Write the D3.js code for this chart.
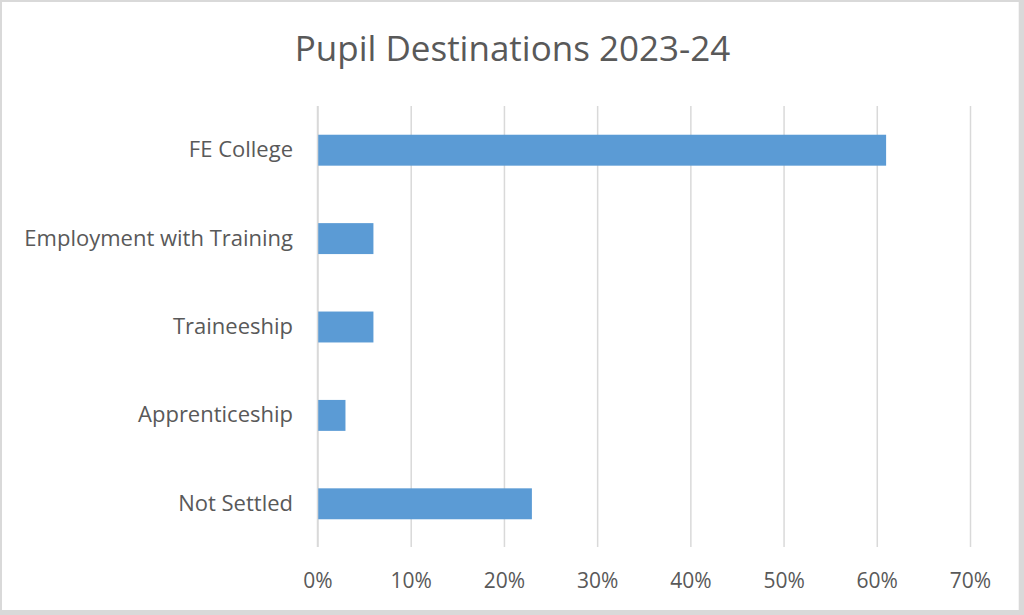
<!DOCTYPE html>
<html>
<head>
<meta charset="utf-8">
<script src="https://cdn.jsdelivr.net/npm/d3@7"></script>
<style>
  html, body { margin: 0; padding: 0; background: #fff; }
  svg { display: block; }
  text { font-family: "Open Sans", "Liberation Sans", sans-serif; fill: #595959; }
</style>
</head>
<body>
<svg id="chart" width="1024" height="615"></svg>
<script>
const title = "Pupil Destinations 2023-24";
const categories = ["FE College", "Employment with Training", "Traineeship", "Apprenticeship", "Not Settled"];
const values = [0.61, 0.06, 0.06, 0.03, 0.23];
const tickValues = [0, 0.1, 0.2, 0.3, 0.4, 0.5, 0.6, 0.7];

const svg = d3.select("#chart");
const W = 1024, H = 615;

// outer frame
svg.append("rect").attr("x", 0).attr("y", 0).attr("width", W).attr("height", H).attr("fill", "#d9d9d9");
svg.append("rect").attr("x", 2).attr("y", 2).attr("width", 1016.7).attr("height", 608).attr("fill", "#ffffff");

const plot = { left: 317.5, right: 970, top: 106, bottom: 548 };

const x = d3.scaleLinear().domain([0, 0.7]).range([plot.left, plot.right]);
const y = d3.scaleBand().domain(categories).range([plot.top, plot.bottom])
  .paddingInner(0.65).paddingOuter(0.325);

// title
svg.append("text")
  .attr("x", 512.5).attr("y", 60.7)
  .attr("text-anchor", "middle")
  .attr("font-size", 35)
  .text(title);

// vertical gridlines + x tick labels
const xAxis = svg.append("g")
  .attr("transform", `translate(0,${plot.bottom - 1})`)
  .call(d3.axisBottom(x).tickValues(tickValues).tickSize(-(plot.bottom - 1 - plot.top))
    .tickFormat(d3.format(".0%")));
xAxis.select(".domain").remove();
xAxis.selectAll(".tick line").attr("stroke", "#d9d9d9").attr("stroke-width", 1.5);
xAxis.selectAll(".tick text")
  .attr("y", 41).attr("dy", 0)
  .attr("font-size", 21)
  .attr("fill", "#595959");

// bars
svg.append("g").selectAll("rect")
  .data(categories)
  .join("rect")
  .attr("x", x(0))
  .attr("y", d => y(d))
  .attr("width", (d, i) => x(values[i]) - x(0))
  .attr("height", y.bandwidth())
  .attr("fill", "#5b9bd5");

// category axis
const yAxis = svg.append("g")
  .attr("transform", `translate(${plot.left},0)`)
  .call(d3.axisLeft(y).tickSize(0).tickPadding(24.5));
yAxis.select(".domain").attr("stroke", "#d9d9d9").attr("stroke-width", 1.5)
  .attr("d", `M0,${plot.top}V${plot.bottom - 1}`);
yAxis.selectAll(".tick text")
  .attr("dy", 7)
  .attr("font-size", 22)
  .attr("fill", "#595959");
</script>
</body>
</html>
